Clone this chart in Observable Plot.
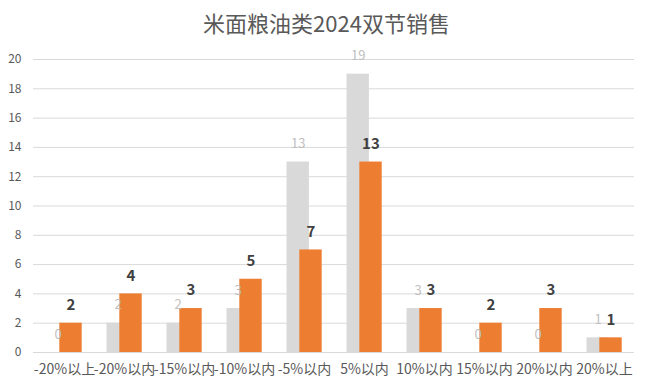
<!DOCTYPE html>
<html>
<head>
<meta charset="utf-8">
<script src="https://cdn.jsdelivr.net/npm/d3@7"></script>
<script src="https://cdn.jsdelivr.net/npm/@observablehq/plot@0.6"></script>
<style>
  body { margin: 0; background: #fff; width: 653px; height: 390px; overflow: hidden; }
  #title { height: 40px; line-height: 44px; text-align: center; font-family: "Noto Sans CJK SC", sans-serif; font-size: 22px; color: #595959; }
</style>
</head>
<body>
<div id="title">米面粮油类2024双节销售</div>
<div id="chart"></div>
<script>
const categories = ["-20%以上","-20%以内","-15%以内","-10%以内","-5%以内","5%以内","10%以内","15%以内","20%以内","20%以上"];
const grayValues = [0, 2, 2, 3, 13, 19, 3, 0, 0, 1];
const orangeValues = [2, 4, 3, 5, 7, 13, 3, 2, 3, 1];
const yTicks = [0, 2, 4, 6, 8, 10, 12, 14, 16, 18, 20];

const gray = categories.map((c, i) => ({cat: c, v: grayValues[i]}));
const orange = categories.map((c, i) => ({cat: c, v: orangeValues[i]}));

const chart = Plot.plot({
  width: 653,
  height: 350,
  marginTop: 19,
  marginBottom: 38,
  marginLeft: 33,
  marginRight: 19,
  style: {fontFamily: "'Noto Sans CJK SC', sans-serif", background: "#fff"},
  x: {domain: categories, padding: 0, label: null},
  y: {domain: [0, 20], label: null},
  marks: [
    Plot.ruleY(yTicks, {stroke: "#d9d9d9", strokeWidth: 1}),
    Plot.axisY({ticks: yTicks, tickSize: 0, tickPadding: 12, fontSize: 12, color: "#595959", label: null}),
    Plot.axisX({tickSize: 0, tickPadding: 12, fontSize: 14, color: "#595959", label: null}),
    Plot.barY(gray, {x: "cat", y: "v", fill: "#d9d9d9", insetLeft: 12.5, insetRight: 25.1}),
    Plot.barY(orange, {x: "cat", y: "v", fill: "#ed7d31", insetLeft: 25.3, insetRight: 12.3}),
    Plot.text(gray, {x: "cat", y: "v", text: d => String(d.v), dx: -6.3, dy: -18, fill: "#c0c0c0", fontSize: 13}),
    Plot.text(orange, {x: "cat", y: "v", text: d => String(d.v), dx: 6.4, dy: -18, fill: "#404040", fontSize: 15, fontWeight: "bold"})
  ]
});
document.getElementById("chart").appendChild(chart);
</script>
</body>
</html>
